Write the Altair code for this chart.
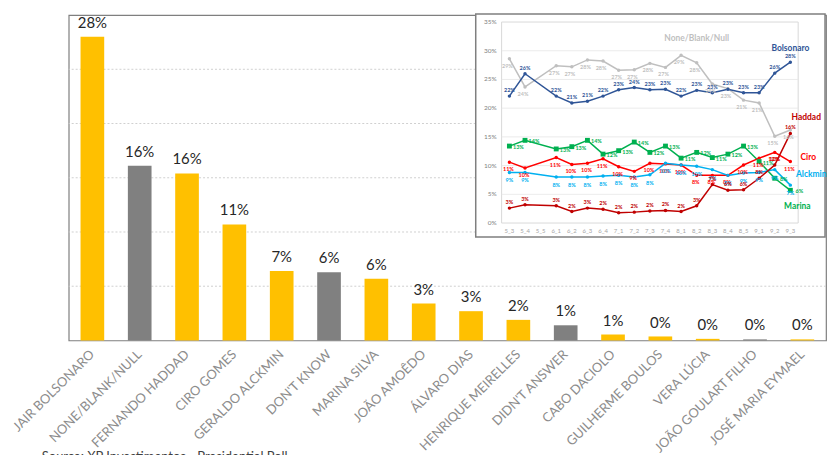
import altair as alt
import pandas as pd

# ---------------- main bar chart data ----------------
bar_names = ["JAIR BOLSONARO", "NONE/BLANK/NULL", "FERNANDO HADDAD", "CIRO GOMES",
             "GERALDO ALCKMIN", "DON'T KNOW", "MARINA SILVA", "JOÃO AMOÊDO",
             "ÁLVARO DIAS", "HENRIQUE MEIRELLES", "DIDN'T ANSWER", "CABO DACIOLO",
             "GUILHERME BOULOS", "VERA LÚCIA", "JOÃO GOULART FILHO", "JOSÉ MARIA EYMAEL"]
bar_values = [28.0, 16.1, 15.4, 10.7, 6.4, 6.3, 5.7, 3.4, 2.7, 1.9, 1.4, 0.55, 0.37, 0.15, 0.1, 0.1]
bar_labels = ["28%", "16%", "16%", "11%", "7%", "6%", "6%", "3%", "3%", "2%", "1%", "1%",
              "0%", "0%", "0%", "0%"]
bar_groups = ["Candidate", "Other", "Candidate", "Candidate", "Candidate", "Other", "Candidate",
              "Candidate", "Candidate", "Candidate", "Other", "Candidate", "Candidate",
              "Candidate", "Other", "Candidate"]
main_grid = [5, 10, 15, 20, 25]
source_text = "Source: XP Investimentos - Presidential Poll"

# ---------------- inset line chart data ----------------
waves = ["5_3", "5_4", "5_5", "6_1", "6_2", "6_3", "6_4", "7_1", "7_2", "7_3", "7_4",
         "8_1", "8_2", "8_3", "8_4", "8_5", "9_1", "9_2", "9_3"]
none_blank = [28.6, 23.7, None, 27.4, 27.2, 28.4, 28.2, 26.6, 26.7, 27.8, 27.1, 29.2, 27.9, 24.2, 23.4, 21.4, 20.9, 15.1, 16.2]
bolsonaro = [22.1, 26.0, None, 22.1, 20.9, 21.2, 22.1, 23.2, 23.6, 23.2, 23.3, 22.1, 23.1, 22.7, 23.3, 22.7, 22.7, 26.1, 28.0]
marina = [13.4, 14.4, None, 12.9, 13.3, 14.4, 12.0, 12.6, 14.1, 12.3, 13.4, 11.3, 12.3, 11.4, 12.0, 13.4, 10.7, 7.8, 5.7]
ciro = [10.6, 9.6, None, 11.4, 10.2, 10.4, 11.2, 9.8, 9.0, 10.4, 10.3, 10.1, 8.3, 8.3, 8.3, 10.1, 11.3, 12.3, 10.7]
alckmin = [8.8, 8.8, None, 8.0, 8.0, 8.0, 8.2, 8.3, 8.0, 8.4, 10.4, 10.1, 9.9, 9.3, 8.3, 8.7, 8.8, 9.3, 6.6]
haddad = [2.6, 3.2, None, 3.0, 2.0, 2.6, 2.4, 1.8, 1.9, 2.1, 2.2, 2.0, 3.0, 6.7, 5.7, 5.8, 7.8, 10.1, 15.6]

series_names = ["None/Blank/Null", "Bolsonaro", "Marina", "Ciro", "Alckmin", "Haddad"]
series_values = [none_blank, bolsonaro, marina, ciro, alckmin, haddad]
series_colors = ["#BFBFBF", "#2F5597", "#00B050", "#FF0000", "#00B0F0", "#C00000"]

# series name annotations (category, value in %)
name_labels = ["None/Blank/Null", "Bolsonaro", "Haddad", "Ciro", "Alckmin", "Marina"]
name_waves = ["8_2", "9_3", "9_3", "9_3", "9_3", "9_3"]
name_values = [32.2, 30.4, 18.5, 11.5, 8.6, 3.0]

inset_ticks = [0, 5, 10, 15, 20, 25, 30, 35]
inset_tick_labels = ["0%", "5%", "10%", "15%", "20%", "25%", "30%", "35%"]
inset_grid = [5, 10, 15, 20, 25, 30]

FONT = "Lato"

# ---------------- main chart ----------------
bars_df = pd.DataFrame({"name": bar_names, "value": bar_values,
                        "label": bar_labels, "group": bar_groups})

x_main_scale = alt.Scale(domain=bar_names, paddingInner=0.5, paddingOuter=0.25)
y_main_scale = alt.Scale(domain=[0, 30], nice=False)

gridlines = alt.Chart(pd.DataFrame({"g": main_grid})).mark_rule(
    color="#D0D0D0", strokeDash=[2, 2], strokeWidth=1).encode(
    y=alt.Y("g:Q", scale=y_main_scale, axis=None))

bars = alt.Chart(bars_df).mark_bar().encode(
    x=alt.X("name:N", scale=x_main_scale, axis=None, title=None),
    y=alt.Y("value:Q", scale=y_main_scale, axis=None, title=None),
    color=alt.Color("group:N", scale=alt.Scale(domain=["Candidate", "Other"],
                                               range=["#FFC000", "#808080"]), legend=None),
)
bar_text = alt.Chart(bars_df).mark_text(font=FONT, fontSize=15, color="#262626",
                                        baseline="alphabetic", dy=-9).encode(
    x=alt.X("name:N", scale=x_main_scale, axis=None),
    y=alt.Y("value:Q", scale=y_main_scale, axis=None),
    text="label:N",
)
cat_labels = alt.Chart(bars_df).mark_text(
    font=FONT, fontSize=13, color="#8C8C8C", angle=315, align="right",
    baseline="middle").encode(
    x=alt.X("name:N", scale=x_main_scale, axis=None),
    y=alt.value(339),
    text="name:N",
)
src = alt.Chart(pd.DataFrame({"t": [source_text]})).mark_text(
    font=FONT, fontSize=13, color="#404040", align="left", baseline="top").encode(
    x=alt.value(-27), y=alt.value(438), text="t:N")

main = alt.layer(gridlines, bars, bar_text, cat_labels, src)

# ---------------- inset chart ----------------
rows = []
for name, vals in zip(series_names, series_values):
    for w, v in zip(waves, vals):
        if v is not None:
            rows.append({"wave": w, "series": name, "value": v,
                         "label": f"{round(v)}%"})
line_df = pd.DataFrame(rows)

x_in_scale = alt.Scale(domain=waves, range=[435, 733], padding=0.5)
y_in_scale = alt.Scale(domain=[0, 35], range=[209, 7], nice=False, zero=True)
color_in = alt.Color("series:N", scale=alt.Scale(domain=series_names, range=series_colors),
                     legend=None)

def xin(field="wave:N"):
    return alt.X(field, scale=x_in_scale, axis=None)

def yin(field="value:Q"):
    return alt.Y(field, scale=y_in_scale, axis=None)

bg = alt.Chart(pd.DataFrame({"a": [0]})).mark_rect(
    fill="white", stroke="#7F7F7F", strokeWidth=1.5).encode(
    x=alt.value(409), x2=alt.value(760), y=alt.value(-1), y2=alt.value(223))
plot_box = alt.Chart(pd.DataFrame({"a": [0]})).mark_rect(
    fill="white", fillOpacity=0, stroke="#D9D9D9", strokeWidth=1).encode(
    x=alt.value(435), x2=alt.value(733), y=alt.value(7), y2=alt.value(209))
grid = alt.Chart(pd.DataFrame({"g": inset_grid})).mark_rule(
    color="#E6E6E6", strokeWidth=0.8).encode(
    y=yin("g:Q"), x=alt.value(435), x2=alt.value(733))

x_tick_text = alt.Chart(pd.DataFrame({"wave": waves})).mark_text(
    font=FONT, fontSize=6, color="#A6A6A6", baseline="top").encode(
    x=xin(), y=alt.value(214), text="wave:N")
y_tick_text = alt.Chart(pd.DataFrame({"v": inset_ticks, "t": inset_tick_labels})).mark_text(
    font=FONT, fontSize=6.5, color="#7F7F7F", align="right", baseline="middle").encode(
    y=yin("v:Q"), x=alt.value(430), text="t:N")

lines = alt.Chart(line_df).mark_line(strokeWidth=1.5).encode(
    x=xin(), y=yin(), color=color_in, detail="series:N")
pts = alt.Chart(line_df).transform_filter("datum.series != 'Marina'").mark_point(
    filled=True, size=12, opacity=1).encode(x=xin(), y=yin(), color=color_in)
sq = alt.Chart(line_df).transform_filter("datum.series == 'Marina'").mark_square(
    filled=True, size=24, opacity=1).encode(x=xin(), y=yin(), color=color_in)

label_offsets = {"None/Blank/Null": (-2, 7), "Bolsonaro": (0, -6), "Marina": (9, 1),
                 "Ciro": (-1, 7), "Alckmin": (0, 8), "Haddad": (0, -6)}
label_layers = []
for name in series_names:
    dx, dy = label_offsets[name]
    label_layers.append(
        alt.Chart(line_df).transform_filter(f"datum.series == '{name}'").mark_text(
            font=FONT, fontSize=5.5, fontWeight="bold", dx=dx, dy=dy).encode(
            x=xin(), y=yin(), text="label:N", color=color_in)
    )

names_df = pd.DataFrame({"series": name_labels, "wave": name_waves, "value": name_values})
name_dx = {"None/Blank/Null": 0, "Bolsonaro": 0, "Haddad": 16, "Ciro": 18,
           "Alckmin": 21, "Marina": 7}
name_layers = []
for name in name_labels:
    name_layers.append(
        alt.Chart(names_df).transform_filter(f"datum.series == '{name}'").mark_text(
            font=FONT, fontSize=8.5, fontWeight="bold", dx=name_dx[name]).encode(
            x=xin(), y=yin(), text="series:N", color=color_in)
    )

inset = alt.layer(bg, plot_box, grid, x_tick_text, y_tick_text, lines, pts, sq,
                  *label_layers, *name_layers)

chart = alt.layer(main, inset).resolve_scale(
    x="independent", y="independent", color="independent"
).properties(
    width=761, height=327,
    padding={"left": 61, "top": 6, "right": 5, "bottom": 114},
    autosize=alt.AutoSizeParams(type="none"),
).configure_view(stroke="#7F7F7F", strokeWidth=1.2)

chart.save("out.html", embed_options={"renderer": "svg", "actions": False})
